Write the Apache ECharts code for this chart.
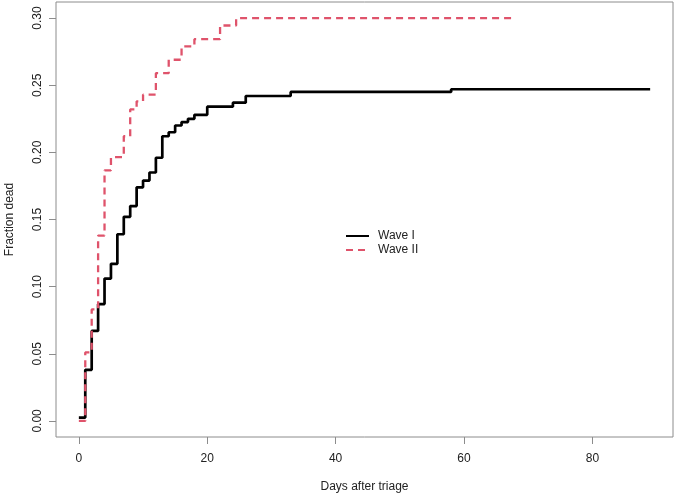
<!DOCTYPE html>
<html>
<head>
<meta charset="utf-8">
<script src="https://cdn.jsdelivr.net/npm/echarts@6/dist/echarts.min.js"></script>
<style>
html,body{margin:0;padding:0;background:#fff;}
#c{width:676px;height:495px;}
</style>
</head>
<body>
<div id="c"></div>
<script>
// Wave I: day after triage and cumulative fraction dead (Kaplan-Meier style step)
const wave1Days = [0, 1, 2, 3, 4, 5, 6, 7, 8, 9, 10, 11, 12, 13, 14, 15, 16, 17, 18, 20, 24, 26, 33, 58, 89];
const wave1Vals = [0.0025, 0.038, 0.067, 0.087, 0.106, 0.117, 0.139, 0.152, 0.160, 0.174, 0.179, 0.185, 0.196, 0.212, 0.215, 0.220, 0.2226, 0.225, 0.228, 0.234, 0.237, 0.242, 0.245, 0.247, 0.247];
// Wave II
const wave2Days = [0, 1, 2, 3, 4, 5, 7, 8, 9, 10, 12, 14, 16, 18, 22, 24.5, 68];
const wave2Vals = [0, 0.051, 0.083, 0.138, 0.1866, 0.1965, 0.212, 0.232, 0.238, 0.243, 0.259, 0.269, 0.279, 0.2843, 0.2945, 0.300, 0.300];
const xTicks = [0, 20, 40, 60, 80];
const yTicks = [0, 0.05, 0.10, 0.15, 0.20, 0.25, 0.30];
const seriesNames = ['Wave I', 'Wave II'];

const pairs = (d, v) => d.map((x, i) => [x, v[i]]);
const font = 'Liberation Sans, Arial, Helvetica, sans-serif';
const gray = '#8c8c8c';

const chart = echarts.init(document.getElementById('c'), null, {renderer: 'canvas'});
chart.setOption({
  animation: false,
  backgroundColor: '#fff',
  grid: {left: 56, right: 3, top: 2, bottom: 58, show: true, borderColor: gray, borderWidth: 1,
    containLabel: false, outerBoundsMode: 'none'},
  legend: {
    left: 345, top: 230, orient: 'vertical', padding: 0,
    itemWidth: 23, itemHeight: 12, itemGap: 2,
    itemStyle: {opacity: 0},
    textStyle: {fontFamily: font, fontSize: 12, color: '#222', padding: [0, 0, 0, 4]},
    data: seriesNames
  },
  xAxis: {
    type: 'value', min: -3.56, max: 92.56,
    name: 'Days after triage', nameLocation: 'middle', nameGap: 44,
    nameTextStyle: {fontFamily: font, fontSize: 12, color: '#222'},
    axisLine: {show: false, onZero: false},
    splitLine: {show: false},
    axisTick: {show: true, inside: false, length: 7, lineStyle: {color: gray}, customValues: xTicks},
    axisLabel: {customValues: xTicks, fontFamily: font, fontSize: 12, color: '#222', margin: 16}
  },
  yAxis: {
    type: 'value', min: -0.012, max: 0.312,
    name: 'Fraction dead', nameLocation: 'middle', nameGap: 40, nameRotate: 90,
    nameTextStyle: {fontFamily: font, fontSize: 12, color: '#222'},
    axisLine: {show: false, onZero: false},
    splitLine: {show: false},
    axisTick: {show: true, inside: false, length: 7, lineStyle: {color: gray}, customValues: yTicks},
    axisLabel: {customValues: yTicks, rotate: 90, fontFamily: font, fontSize: 12, color: '#222', margin: 12,
      formatter: v => v.toFixed(2)}
  },
  series: [
    {
      name: seriesNames[0], type: 'line', step: 'end', symbol: 'none',
      data: pairs(wave1Days, wave1Vals),
      lineStyle: {color: '#000', width: 2.7},
      itemStyle: {color: '#000'}
    },
    {
      name: seriesNames[1], type: 'line', step: 'end', symbol: 'none',
      data: pairs(wave2Days, wave2Vals),
      lineStyle: {color: '#DF536B', width: 2.3, type: [7, 5]},
      itemStyle: {color: '#DF536B'}
    }
  ]
});
</script>
</body>
</html>
